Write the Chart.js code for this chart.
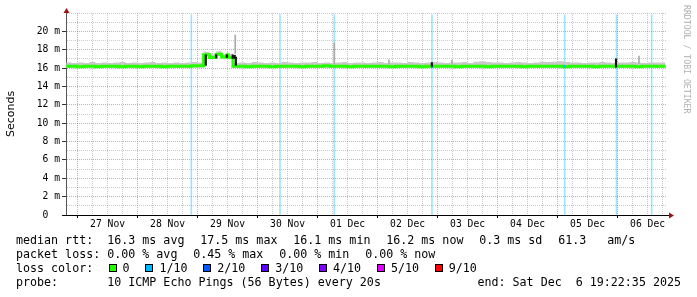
<!DOCTYPE html>
<html>
<head>
<meta charset="utf-8">
<script src="https://cdn.jsdelivr.net/npm/chart.js@4/dist/chart.umd.min.js"></script>
<style>
html,body{margin:0;padding:0;background:#fff;}
#wrap{position:relative;width:697px;height:297px;overflow:hidden;background:#fff;}
#c{position:absolute;left:0;top:0;}
#legend{position:absolute;left:16px;top:234px;width:665px;font-family:"DejaVu Sans Mono",monospace;font-size:11.66px;color:#000;}
.row{position:relative;height:13.9px;line-height:13.9px;white-space:pre;}
.lab{display:inline-block;width:13ch;}
.it{margin-left:15.8px;}
.it0{margin-left:0;}
.box{display:inline-block;width:6px;height:6px;border:1px solid #000;vertical-align:baseline;margin-right:6px;}
.end{position:absolute;right:0;top:0;}
#credit{position:absolute;left:682px;top:5px;writing-mode:vertical-rl;font-family:"DejaVu Sans Mono",monospace;font-size:8.2px;line-height:10px;color:#b0b0b0;white-space:pre;}
</style>
</head>
<body>
<div id="wrap">
  <canvas id="c" width="697" height="234"></canvas>
  <div id="legend"></div>
  <div id="credit">RRDTOOL / TOBI OETIKER</div>
</div>
<script>
// ---------- data (time in days since 27 Nov 2025 00:00) ----------
const dayLabels = ['27 Nov','28 Nov','29 Nov','30 Nov','01 Dec','02 Dec','03 Dec','04 Dec','05 Dec','06 Dec'];

const times = [
  -0.19,-0.1,0.0,0.1,0.2,0.3,0.4,0.5,0.6,0.7,0.8,0.9,1.0,1.1,1.2,1.3,1.4,1.5,1.6,1.7,1.8,1.9,2.0,2.1,
  2.14,2.2,2.31,2.35,2.4,2.49,2.51,2.59,2.64,
  2.7,2.8,2.9,3.0,3.1,3.2,3.3,3.4,3.5,3.6,3.7,3.8,3.9,4.0,4.1,4.2,4.3,4.4,4.5,4.6,4.7,4.8,4.9,5.0,
  5.1,5.2,5.3,5.4,5.5,5.6,5.7,5.8,5.9,6.0,6.1,6.2,6.3,6.4,6.5,6.6,6.7,6.8,6.9,7.0,7.1,7.2,7.3,7.4,
  7.5,7.6,7.7,7.8,7.9,8.0,8.1,8.2,8.3,8.4,8.5,8.6,8.7,8.8,8.9,9.0,9.1,9.2,9.3,9.4,9.5,9.6,9.7,9.8,9.81
];
// median rtt (ms)
const medianRtt = [
  16.2,16.2,16.2,16.15,16.2,16.2,16.15,16.2,16.2,16.2,16.15,16.2,16.2,16.15,16.2,16.2,16.2,16.15,16.2,16.2,16.2,16.2,16.25,16.25,
  17.45,17.45,17.15,17.5,17.5,17.2,17.45,17.15,16.2,
  16.2,16.2,16.15,16.2,16.2,16.2,16.15,16.2,16.2,16.2,16.2,16.15,16.2,16.2,16.2,16.25,16.2,16.2,16.2,16.15,16.2,16.2,16.2,16.2,
  16.2,16.2,16.15,16.2,16.2,16.2,16.2,16.15,16.2,16.2,16.2,16.2,16.2,16.15,16.2,16.2,16.2,16.2,16.15,16.2,16.2,16.2,16.2,16.2,
  16.15,16.2,16.2,16.2,16.2,16.2,16.2,16.15,16.2,16.2,16.2,16.2,16.15,16.2,16.2,16.2,16.2,16.2,16.2,16.15,16.2,16.2,16.2,16.2
];
// upper edge of the ping smoke (ms)
const smokeHigh = [
  16.55,16.6,16.55,16.6,16.55,16.65,16.55,16.6,16.55,16.6,16.65,16.55,16.6,16.55,16.6,16.65,16.55,16.6,16.55,16.6,16.55,16.6,16.65,16.6,
  17.8,17.75,17.5,17.8,17.85,17.5,17.75,17.55,16.6,
  16.55,16.6,16.55,16.65,16.6,16.55,16.6,16.55,16.65,16.6,16.55,16.6,16.6,16.65,16.55,16.6,16.55,16.6,16.65,16.55,16.6,16.6,16.55,16.6,
  16.65,16.55,16.6,16.6,16.55,16.65,16.6,16.55,16.6,16.65,16.6,16.55,16.6,16.6,16.65,16.55,16.7,16.75,16.65,16.6,16.6,16.55,16.6,16.65,
  16.6,16.55,16.6,16.7,16.65,16.7,16.75,16.65,16.6,16.6,16.55,16.6,16.6,16.65,16.6,16.55,16.6,16.6,16.65,16.6,16.55,16.6,16.6,16.6
];
// lower edge of the ping smoke (ms)
const smokeLow = [
  16.0,16.0,15.95,16.0,16.0,15.95,16.0,16.0,16.0,15.95,16.0,16.0,15.95,16.0,16.0,16.0,15.95,16.0,16.0,16.0,16.0,15.95,16.05,16.05,
  17.25,17.25,16.95,17.3,17.3,17.0,17.25,16.95,16.0,
  16.0,15.95,16.0,16.0,16.0,15.95,16.0,16.0,16.0,16.0,15.95,16.0,16.0,16.0,16.05,16.0,16.0,16.0,15.95,16.0,16.0,16.0,16.0,16.0,
  16.0,15.95,16.0,16.0,16.0,16.0,15.95,16.0,16.0,16.0,16.0,16.0,15.95,16.0,16.0,16.0,16.0,15.95,16.0,16.0,16.0,16.0,16.0,15.95,
  16.0,16.0,16.0,16.0,16.0,16.0,15.95,16.0,16.0,16.0,16.0,15.95,16.0,16.0,16.0,16.0,16.0,16.0,15.95,16.0,16.0,16.0,16.0,16.0
];
// isolated slow pings (light smoke spikes)
const spikeTimes = [2.628, 4.279, 5.19, 6.24, 9.357];
const spikeLow   = [17.6, 16.5, 16.5, 16.5, 16.5];
const spikeHigh  = [19.6, 18.75, 16.9, 16.85, 17.3];
// dense (dark) smoke segments
const darkTimes = [2.137, 2.31, 2.488, 2.586, 2.62, 2.638, 5.905, 8.974];
const darkLow   = [16.3, 17.1, 17.15, 17.05, 17.05, 16.3, 16.2, 16.1];
const darkHigh  = [17.45, 17.45, 17.45, 17.45, 17.4, 17.2, 16.6, 17.0];
// packet loss events
const lossTimes  = [1.896, 3.374, 4.279, 5.907, 8.119, 8.982, 9.569];
const lossMarkTimes = [5.907, 8.119];
const lossMarkLevel = [2, 1];
const lossMarkLow   = [16.1, 16.1];
const lossMarkHigh  = [16.35, 16.3];

// legend content
const lossLabels = ['0','1/10','2/10','3/10','4/10','5/10','9/10'];
const lossColors = ['#26ff00','#00b8ff','#0059ff','#5e00ff','#7e00ff','#dd00ff','#ff0000'];
const rttStats  = ['16.3 ms avg','17.5 ms max','16.1 ms min','16.2 ms now','0.3 ms sd','61.3   am/s'];
const lossStats = ['0.00 % avg','0.45 % max','0.00 % min','0.00 % now'];
const probeText = '10 ICMP Echo Pings (56 Bytes) every 20s';
const endText = 'end: Sat Dec  6 19:22:35 2025';

const xMin = -0.1927, xMax = 9.8073, yMax = 22;

// ---------- legend ----------
(function(){
  const lg = document.getElementById('legend');
  function row(label, items){
    let h = '<div class="row"><span class="lab">'+label+'</span>';
    items.forEach((t,i)=>{ h += '<span class="it'+(i===0?' it0':'')+'">'+t+'</span>'; });
    return h + '</div>';
  }
  let html = row('median rtt:', rttStats) + row('packet loss:', lossStats);
  let r3 = '<div class="row"><span class="lab">loss color:</span>';
  lossLabels.forEach((l,i)=>{
    r3 += '<span class="box" style="background:'+lossColors[i]+';margin-left:'+(i===0?'1.4px':'15.8px')+'"></span>'+l;
  });
  html += r3 + '</div>';
  html += '<div class="row"><span class="lab">probe:</span>'+probeText+'<span class="end">'+endText+'</span></div>';
  lg.innerHTML = html;
})();

// ---------- chart ----------
const majorGrid = 'rgba(215,70,70,0.5)', minorGrid = 'rgba(128,128,128,0.42)';
const toXY = (xs, ys) => xs.map((x,i)=>({x:x, y:ys[i]}));
const toBars = (xs, lo, hi) => xs.map((x,i)=>({x:x, y:[lo[i], hi[i]]}));

const axisDecor = {
  id:'axisDecor',
  afterDraw(chart){
    const {ctx, chartArea:a} = chart;
    ctx.save();
    ctx.strokeStyle = '#000'; ctx.lineWidth = 1;
    ctx.beginPath(); ctx.moveTo(a.left-3.5, a.bottom+0.5); ctx.lineTo(a.right+4, a.bottom+0.5); ctx.stroke();
    ctx.fillStyle = '#9b1414';
    ctx.beginPath(); ctx.moveTo(a.right+3, a.bottom-2.5); ctx.lineTo(a.right+8, a.bottom+0.5); ctx.lineTo(a.right+3, a.bottom+3.5); ctx.closePath(); ctx.fill();
    ctx.beginPath(); ctx.moveTo(a.left-2.5, a.top); ctx.lineTo(a.left+0.5, a.top-5); ctx.lineTo(a.left+3.5, a.top); ctx.closePath(); ctx.fill();
    ctx.restore();
  }
};

new Chart(document.getElementById('c'), {
  type:'line',
  data:{
    datasets:[
      { type:'line', label:'median', data:toXY(times, medianRtt), borderColor:lossColors[0], borderWidth:3,
        pointRadius:0, stepped:'after', fill:false, order:1 },
      { type:'line', label:'smoke high', data:toXY(times, smokeHigh), borderColor:'rgba(0,0,0,0)', borderWidth:0,
        pointRadius:0, stepped:'after', fill:'+1', backgroundColor:'#c9c9c9', order:5 },
      { type:'line', label:'smoke low', data:toXY(times, smokeLow), borderColor:'rgba(0,0,0,0)', borderWidth:0,
        pointRadius:0, stepped:'after', fill:false, order:6 },
      { type:'bar', label:'spikes', data:toBars(spikeTimes, spikeLow, spikeHigh), backgroundColor:'#aaaaaa',
        barThickness:1, grouped:false, order:4 },
      { type:'bar', label:'dense smoke', data:toBars(darkTimes, darkLow, darkHigh), backgroundColor:'#111',
        barThickness:1.5, grouped:false, order:0 },
      { type:'bar', label:'loss marks', data:toBars(lossMarkTimes, lossMarkLow, lossMarkHigh),
        backgroundColor:(c)=>lossColors[lossMarkLevel[c.dataIndex] || 1], barThickness:1.5, grouped:false, order:0 },
      { type:'bar', label:'loss', data:lossTimes.map(x=>({x:x, y:[0, 21.8]})), backgroundColor:'rgba(0,184,255,0.38)',
        barThickness:1, grouped:false, order:7 }
    ]
  },
  options:{
    responsive:false, animation:false, events:[],
    layout:{ padding:{ top:13, right:31, left:0, bottom:0 } },
    plugins:{ legend:{display:false}, tooltip:{enabled:false} },
    scales:{
      x:{
        type:'linear', min:xMin, max:xMax, offset:false,
        afterBuildTicks:(s)=>{
          const t=[];
          dayLabels.forEach((_,d)=>{ [0,0.25,0.5,0.75].forEach(q=>t.push({value:d+q})); });
          s.ticks = t.filter(v=>v.value>=xMin && v.value<=xMax);
        },
        afterFit:(s)=>{ s.height = 19; },
        grid:{ offset:false, lineWidth:1, drawTicks:true, tickLength:3,
          color:(c)=> (c.tick && Number.isInteger(c.tick.value)) ? majorGrid : minorGrid,
          tickColor:(c)=> (c.tick && Number.isInteger(c.tick.value)) ? '#000' : 'rgba(0,0,0,0)' },
        border:{ display:true, color:'#000', width:1, dash:[1,1] },
        ticks:{ autoSkip:false, maxRotation:0, minRotation:0, padding:1, color:'#000',
          font:{ family:'"DejaVu Sans Mono"', size:9.7 },
          callback:(v)=> (Math.abs(v - Math.floor(v) - 0.5) < 1e-6) ? dayLabels[Math.floor(v)] : '' }
      },
      y:{
        type:'linear', min:0, max:yMax,
        afterFit:(s)=>{ s.width = 66; },
        grid:{ lineWidth:1, drawTicks:true, tickLength:4,
          color:(c)=> (c.tick && c.tick.value % 2 === 0 && c.tick.value <= 20) ? majorGrid : minorGrid,
          tickColor:(c)=> (c.tick && c.tick.value % 2 === 0 && c.tick.value <= 20) ? '#333' : 'rgba(0,0,0,0)' },
        border:{ display:true, color:'#555', width:1, dash:[1,1] },
        ticks:{ stepSize:1, autoSkip:false, padding:2, color:'#000',
          font:{ family:'"DejaVu Sans Mono"', size:9.7 },
          callback:(v)=> (v === 0 ? '0  ' : (v % 2 === 0 && v <= 20 ? v + ' m' : '')) },
        title:{ display:true, text:'Seconds', color:'#000', font:{ family:'"DejaVu Sans"', size:11 }, padding:{top:4.5, bottom:0} }
      }
    }
  },
  plugins:[axisDecor]
});
</script>
</body>
</html>
